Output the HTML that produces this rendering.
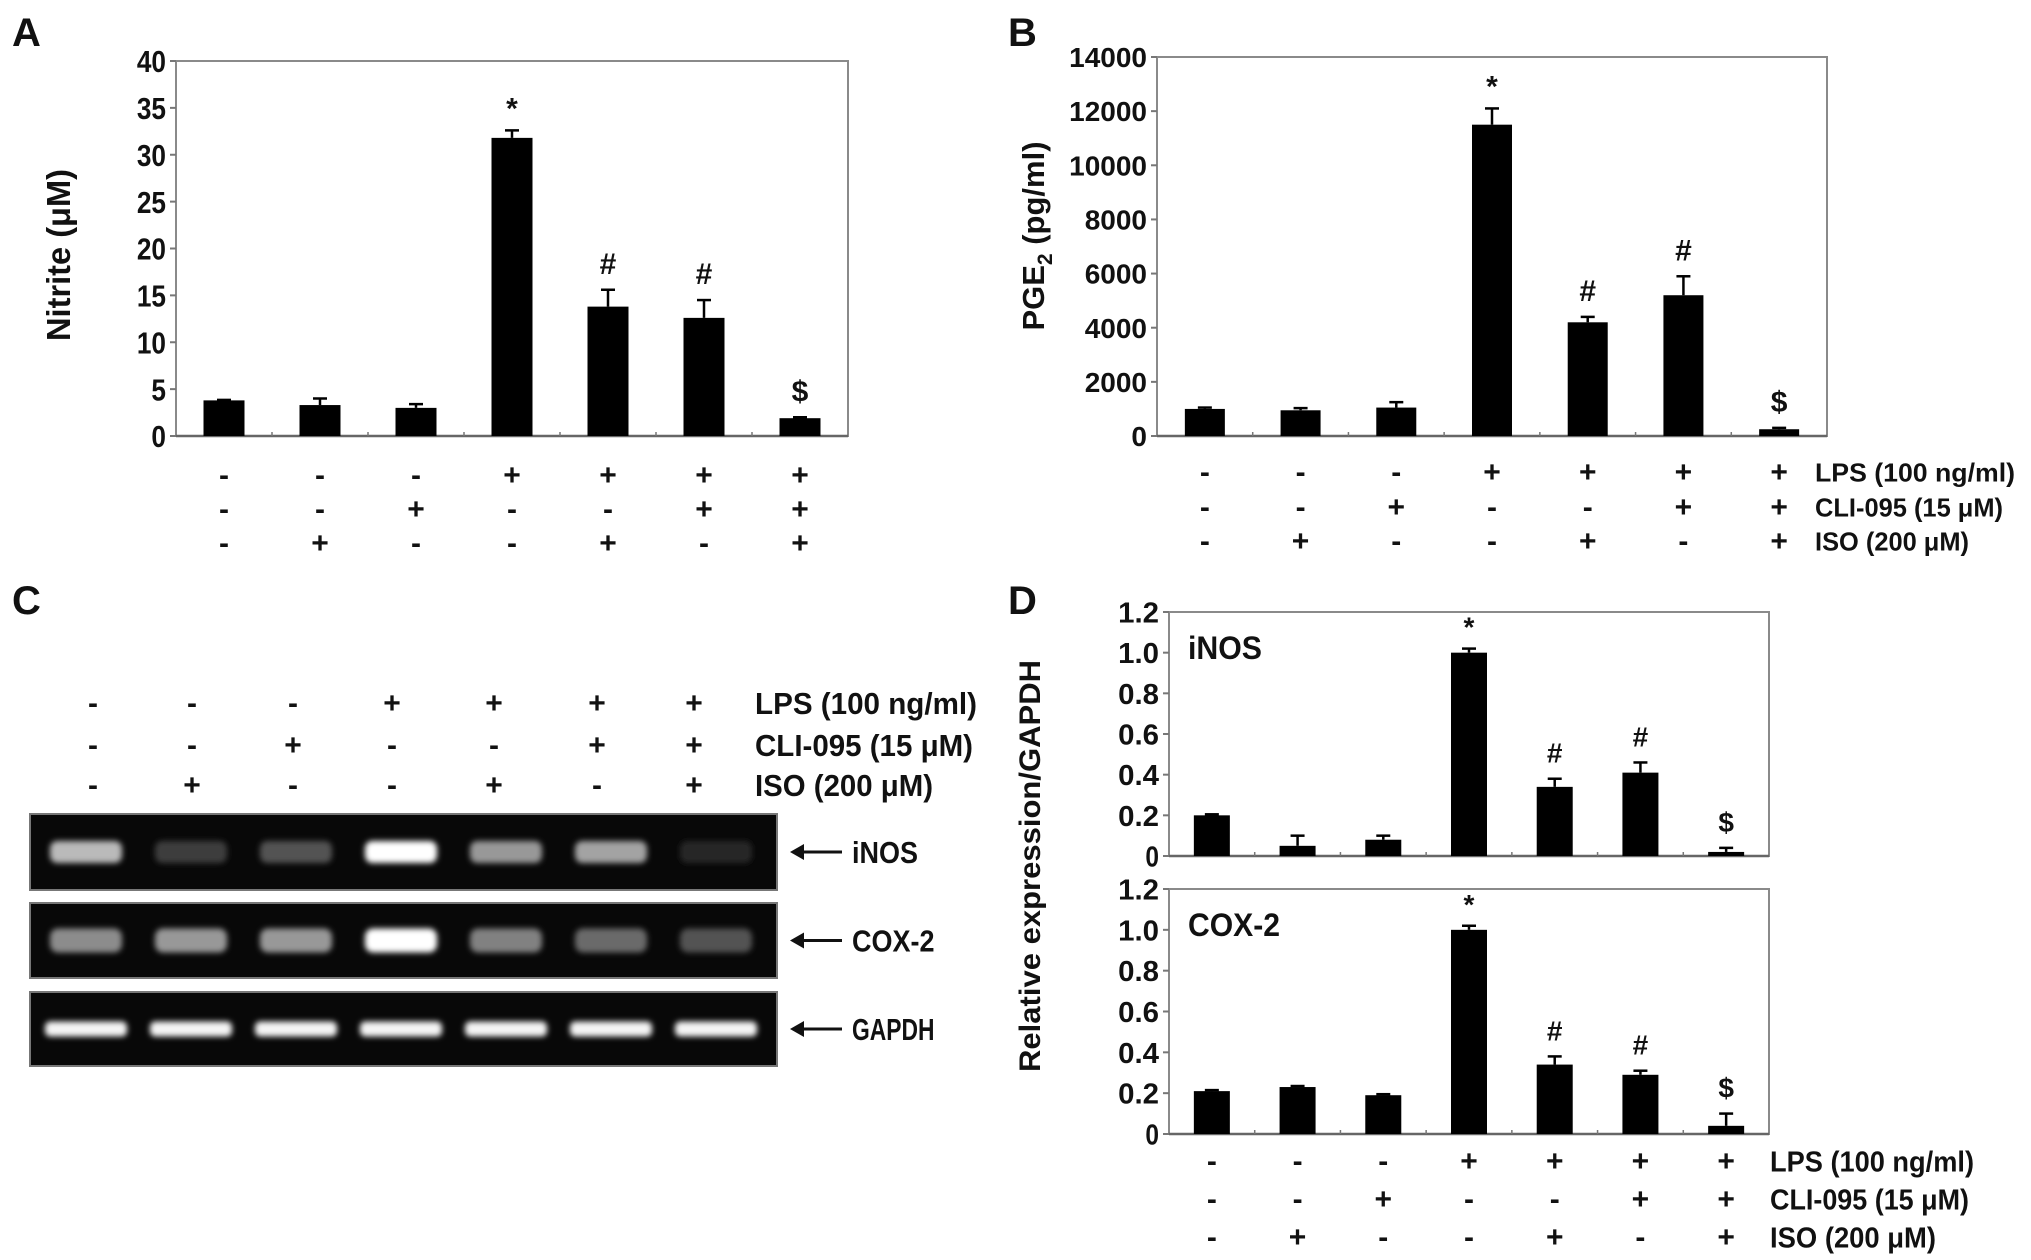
<!DOCTYPE html>
<html><head><meta charset="utf-8">
<style>
html,body{margin:0;padding:0;background:#fff;}
svg{display:block;font-family:"Liberation Sans",Arial,sans-serif;font-weight:bold;}
</style></head>
<body>
<svg id="fig" width="2031" height="1260" viewBox="0 0 2031 1260" xmlns="http://www.w3.org/2000/svg">
<defs>
<filter id="blur" x="-20%" y="-50%" width="140%" height="200%"><feGaussianBlur stdDeviation="3"/></filter>
</defs>
</svg>
<script>
// ---- data ----
const categories = ['ctrl','ISO','CLI','LPS','LPS+ISO','LPS+CLI','LPS+CLI+ISO'];
const lpsSigns = ['-','-','-','+','+','+','+'];
const cliSigns = ['-','-','+','-','-','+','+'];
const isoSigns = ['-','+','-','-','+','-','+'];
const nitriteValues = [3.8, 3.3, 3.0, 31.8, 13.8, 12.6, 1.9];
const nitriteErrors = [0.05, 0.7, 0.4, 0.8, 1.8, 1.9, 0.1];
const nitriteMarks = ['', '', '', '*', '#', '#', '$'];
const nitriteTicks = [0,5,10,15,20,25,30,35,40];
const pgeValues = [1000, 950, 1050, 11500, 4200, 5200, 250];
const pgeErrors = [50, 80, 200, 600, 200, 700, 50];
const pgeMarks = ['', '', '', '*', '#', '#', '$'];
const pgeTicks = [0,2000,4000,6000,8000,10000,12000,14000];
const inosValues = [0.20, 0.05, 0.08, 1.00, 0.34, 0.41, 0.02];
const inosErrors = [0.005, 0.05, 0.02, 0.02, 0.04, 0.05, 0.02];
const coxValues = [0.21, 0.23, 0.19, 1.00, 0.34, 0.29, 0.04];
const coxErrors = [0.005, 0.005, 0.005, 0.02, 0.04, 0.02, 0.06];
const relMarks = ['', '', '', '*', '#', '#', '$'];
const relTicks = [0,0.2,0.4,0.6,0.8,1.0,1.2];
const relTickLabels = ['0','0.2','0.4','0.6','0.8','1.0','1.2'];
const gelInos = [0.7, 0.15, 0.25, 1.0, 0.55, 0.6, 0.06];
const gelCox = [0.5, 0.55, 0.55, 1.0, 0.45, 0.35, 0.25];
const gelGapdh = [0.95, 0.95, 0.95, 0.95, 0.95, 0.95, 0.95];

const NS='http://www.w3.org/2000/svg';
const svg=document.getElementById('fig');
function mk(tag,attrs,parent){const e=document.createElementNS(NS,tag);for(const k in attrs)e.setAttribute(k,attrs[k]);(parent||svg).appendChild(e);return e;}
function txt(s,attrs,parent){const e=mk('text',attrs,parent);e.textContent=s;return e;}

function barPanel(o){
  const g=mk('g',{});
  
  
  const n=o.values.length, slot=(o.x1-o.x0)/n;
  const y=v=>o.y1-(v-o.min)/(o.max-o.min)*(o.y1-o.y0);
  const xc=i=>o.x0+slot*(i+0.5);
  const fr=mk('rect',{x:o.x0,y:o.y0,width:o.x1-o.x0,height:o.y1-o.y0,fill:'none',stroke:'#8a8a8a','stroke-width':2},g);
  
  
  mk('line',{x1:o.x0,y1:o.y1,x2:o.x1,y2:o.y1,stroke:'#666','stroke-width':2.5},g);
  for(let i=1;i<n;i++){mk('line',{x1:o.x0+slot*i,y1:o.y1,x2:o.x0+slot*i,y2:o.y1-4,stroke:'#777','stroke-width':1.5},g);}
  o.ticks.forEach((t,k)=>{
    mk('line',{x1:o.x0-6,y1:y(t),x2:o.x0,y2:y(t),stroke:'#777','stroke-width':2},g);
    const lab=txt(o.tickLabels?o.tickLabels[k]:String(t),{x:o.x0-10,y:y(t)+o.tfs*0.36,'text-anchor':'end','font-size':o.tfs,fill:'#111'},g);
    if(o.narrow){lab.setAttribute('textLength',lab.textContent.length*o.tfs*0.47);lab.setAttribute('lengthAdjust','spacingAndGlyphs');}
    
    
  });
  o.values.forEach((v,i)=>{
    const b=mk('rect',{x:xc(i)-o.bw/2,y:y(v),width:o.bw,height:o.y1-y(v),fill:'#000'},g);
    
    
    const et=y(v+o.errors[i]);
    mk('line',{x1:xc(i),y1:y(v),x2:xc(i),y2:et,stroke:'#000','stroke-width':2.5},g);
    mk('line',{x1:xc(i)-7,y1:et,x2:xc(i)+7,y2:et,stroke:'#000','stroke-width':2.5},g);
    if(o.marks[i]){
      const m=txt(o.marks[i],{x:xc(i),y:et-(o.marks[i]==='*'?12:16),'text-anchor':'middle','font-size':o.mfs,fill:'#111'},g);
      
      
    }
  });
  if(o.rows){
    [lpsSigns,cliSigns,isoSigns].forEach((arr,r)=>{
      arr.forEach((s,i)=>{
        const t=txt(s,{x:xc(i),y:o.rows[r]+10,'text-anchor':'middle','font-size':30,fill:'#111'},g);
        
        
      });
    });
  }
  return g;
}

function rowLabels(x,ys,fs,len,name){
  const labels=['LPS (100 ng/ml)','CLI-095 (15 \u03bcM)','ISO (200 \u03bcM)'];
  labels.forEach((s,r)=>{
    const t=txt(s,{x:x,y:ys[r]+fs*0.36,'font-size':fs,fill:'#111',textLength:len[r],lengthAdjust:'spacingAndGlyphs'});
    
    
  });
}
function panelLetter(s,x,y){const t=txt(s,{x:x,y:y,'font-size':40,fill:'#111'});}
function yTitle(s,cx,cy,fs,len){const t=txt(s,{x:0,y:0,'text-anchor':'middle','font-size':fs,fill:'#111',transform:`translate(${cx},${cy}) rotate(-90)`,textLength:len,lengthAdjust:'spacingAndGlyphs'});return t;}

// Panel A
panelLetter('A',12,46);
barPanel({name:'panel-a-nitrite',x0:176,x1:848,y0:61,y1:436,min:0,max:40,values:nitriteValues,errors:nitriteErrors,marks:nitriteMarks,ticks:nitriteTicks,bw:41,tfs:31,mfs:30,narrow:true,rows:[475,509,543]});
yTitle('Nitrite (\u03bcM)',70,255,33,172);

// Panel B
panelLetter('B',1008,46);
barPanel({name:'panel-b-pge2',x0:1157,x1:1827,y0:57,y1:436,min:0,max:14000,values:pgeValues,errors:pgeErrors,marks:pgeMarks,ticks:pgeTicks,bw:40,tfs:28,mfs:30,rows:[472,507,541]});
{const t=txt('',{x:0,y:0,'text-anchor':'middle','font-size':31,fill:'#111',transform:'translate(1044,236) rotate(-90)'});
 t.innerHTML='PGE<tspan font-size="21" dy="8">2</tspan><tspan dy="-8"> (pg/ml)</tspan>';}
rowLabels(1815,[472,507,541],26,[200,188,154],'panel-b');

// Panel C gel
panelLetter('C',12,614);
const gelCols=[93,192,293,392,494,597,694];
[lpsSigns,cliSigns,isoSigns].forEach((arr,r)=>{
  const ys=[703,745,785];
  arr.forEach((s,i)=>{const t=txt(s,{x:gelCols[i],y:ys[r]+10,'text-anchor':'middle','font-size':30,fill:'#111'});});
});
rowLabels(755,[703,745,785],31,[222,218,178],'panel-c');
const gels=[{name:'inos',label:'iNOS',y0:814,y1:890,vals:gelInos,bh:22,bw:72},{name:'cox-2',label:'COX-2',y0:903,y1:978,vals:gelCox,bh:24,bw:72},{name:'gapdh',label:'GAPDH',y0:992,y1:1066,vals:gelGapdh,bh:15,bw:82}];
gels.forEach(gd=>{
  const g=mk('g',{});
  
  
  mk('rect',{x:30,y:gd.y0,width:747,height:gd.y1-gd.y0,fill:'#080808',stroke:'#777','stroke-width':2},g);
  const cy=(gd.y0+gd.y1)/2;
  gd.vals.forEach((v,i)=>{
    const cx=86+105*i;
    const c=Math.round(25+230*v);
    const b=mk('rect',{x:cx-gd.bw/2,y:cy-gd.bh/2,width:gd.bw,height:gd.bh,rx:gd.bh/3,fill:`rgb(${c},${c},${c})`,filter:'url(#blur)'},g);
    
    
  });
  mk('line',{x1:800,y1:cy,x2:842,y2:cy,stroke:'#111','stroke-width':3},g);
  mk('path',{d:`M790 ${cy} L804 ${cy-8} L804 ${cy+8} Z`,fill:'#111'},g);
  const t=txt(gd.label,{x:852,y:cy+11,'font-size':31,fill:'#111',textLength:gd.label.length*16.5,lengthAdjust:'spacingAndGlyphs'},g);
  
  
});

// Panel D
panelLetter('D',1008,614);
barPanel({name:'panel-d-inos',x0:1169,x1:1769,y0:612,y1:856,min:0,max:1.2,values:inosValues,errors:inosErrors,marks:relMarks,ticks:relTicks,tickLabels:relTickLabels,bw:36,tfs:29,mfs:28,narrow:true});
barPanel({name:'panel-d-cox2',x0:1169,x1:1769,y0:889,y1:1134,min:0,max:1.2,values:coxValues,errors:coxErrors,marks:relMarks,ticks:relTicks,tickLabels:relTickLabels,bw:36,tfs:29,mfs:28,narrow:true,rows:[1161,1199,1237]});
{const t=txt('iNOS',{x:1188,y:659,'font-size':32,fill:'#111',textLength:74,lengthAdjust:'spacingAndGlyphs'});}
{const t=txt('COX-2',{x:1188,y:936,'font-size':32,fill:'#111',textLength:92,lengthAdjust:'spacingAndGlyphs'});}
yTitle('Relative expression/GAPDH',1040,866,30,412);
rowLabels(1770,[1161,1199,1237],29,[204,199,166],'panel-d');
</script>
</body></html>
